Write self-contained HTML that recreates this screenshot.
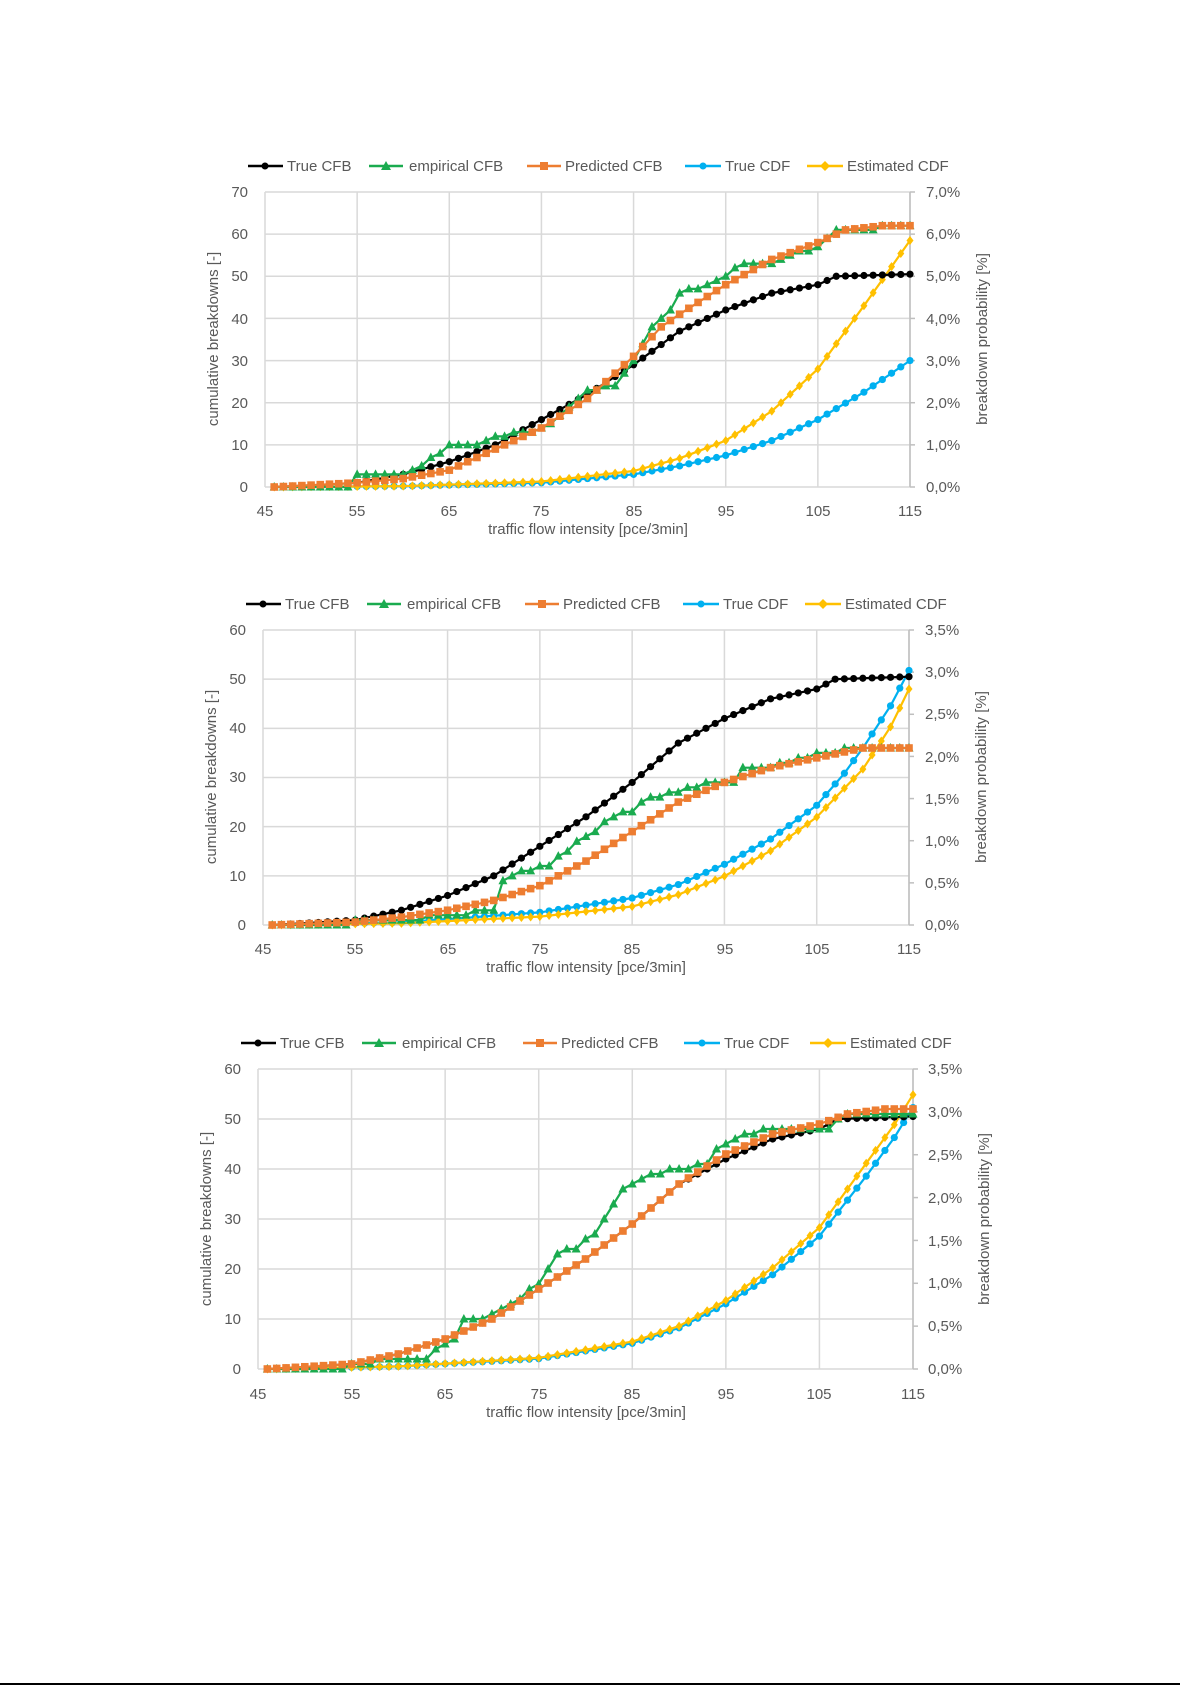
<!DOCTYPE html>
<html><head><meta charset="utf-8"><style>
html,body{margin:0;padding:0;background:#fff;}
body{width:1192px;height:1685px;position:relative;overflow:hidden;font-family:"Liberation Sans",sans-serif;}
svg{position:absolute;overflow:visible;}
text{font-family:"Liberation Sans",sans-serif;fill:#595959;font-size:15px;}
.hr{position:absolute;left:0;top:1683px;width:1180px;height:1.5px;background:#000;}
</style></head><body>

<svg id="c1" style="left:185px;top:132px" width="820" height="420">
<g class="leg">
<line x1="63" y1="34" x2="98" y2="34" stroke="#000" stroke-width="2.5"/><circle cx="80" cy="34" r="3.5" fill="#000"/><text x="102" y="39">True CFB</text>
<line x1="184" y1="34" x2="218" y2="34" stroke="#1aab4f" stroke-width="2.5"/><polygon points="201,29 206,38 196,38" fill="#1aab4f"/><text x="224" y="39">empirical CFB</text>
<line x1="342" y1="34" x2="376" y2="34" stroke="#ed7d31" stroke-width="2.5"/><rect x="355" y="30" width="8" height="8" fill="#ed7d31"/><text x="380" y="39">Predicted CFB</text>
<line x1="500" y1="34" x2="536" y2="34" stroke="#00b0f0" stroke-width="2.5"/><circle cx="518" cy="34" r="3.5" fill="#00b0f0"/><text x="540" y="39">True CDF</text>
<line x1="622" y1="34" x2="658" y2="34" stroke="#ffc000" stroke-width="2.5"/><polygon points="640,29 645,34 640,39 635,34" fill="#ffc000"/><text x="662" y="39">Estimated CDF</text>
</g>
<g text-anchor="end">
<text x="63" y="65">70</text><text x="63" y="107">60</text><text x="63" y="149">50</text><text x="63" y="192">40</text><text x="63" y="234">30</text><text x="63" y="276">20</text><text x="63" y="318">10</text><text x="63" y="360">0</text>
</g>
<g>
<text x="741" y="65">7,0%</text><text x="741" y="107">6,0%</text><text x="741" y="149">5,0%</text><text x="741" y="192">4,0%</text><text x="741" y="234">3,0%</text><text x="741" y="276">2,0%</text><text x="741" y="318">1,0%</text><text x="741" y="360">0,0%</text>
</g>
<g text-anchor="middle">
<text x="80" y="384">45</text><text x="172" y="384">55</text><text x="264" y="384">65</text><text x="356" y="384">75</text><text x="449" y="384">85</text><text x="541" y="384">95</text><text x="633" y="384">105</text><text x="725" y="384">115</text>
<text x="403" y="402">traffic flow intensity [pce/3min]</text>
<text transform="translate(33,207) rotate(-90)">cumulative breakdowns [-]</text>
<text transform="translate(802,207) rotate(-90)">breakdown probability [%]</text>
</g>
</svg>

<svg id="c2" style="left:183px;top:570px" width="820" height="420">
<g class="leg">
<line x1="63" y1="34" x2="98" y2="34" stroke="#000" stroke-width="2.5"/><circle cx="80" cy="34" r="3.5" fill="#000"/><text x="102" y="39">True CFB</text>
<line x1="184" y1="34" x2="218" y2="34" stroke="#1aab4f" stroke-width="2.5"/><polygon points="201,29 206,38 196,38" fill="#1aab4f"/><text x="224" y="39">empirical CFB</text>
<line x1="342" y1="34" x2="376" y2="34" stroke="#ed7d31" stroke-width="2.5"/><rect x="355" y="30" width="8" height="8" fill="#ed7d31"/><text x="380" y="39">Predicted CFB</text>
<line x1="500" y1="34" x2="536" y2="34" stroke="#00b0f0" stroke-width="2.5"/><circle cx="518" cy="34" r="3.5" fill="#00b0f0"/><text x="540" y="39">True CDF</text>
<line x1="622" y1="34" x2="658" y2="34" stroke="#ffc000" stroke-width="2.5"/><polygon points="640,29 645,34 640,39 635,34" fill="#ffc000"/><text x="662" y="39">Estimated CDF</text>
</g>
<g text-anchor="end">
<text x="63" y="65">60</text><text x="63" y="114">50</text><text x="63" y="163">40</text><text x="63" y="212">30</text><text x="63" y="262">20</text><text x="63" y="311">10</text><text x="63" y="360">0</text>
</g>
<g>
<text x="742" y="65">3,5%</text><text x="742" y="107">3,0%</text><text x="742" y="149">2,5%</text><text x="742" y="192">2,0%</text><text x="742" y="234">1,5%</text><text x="742" y="276">1,0%</text><text x="742" y="318">0,5%</text><text x="742" y="360">0,0%</text>
</g>
<g text-anchor="middle">
<text x="80" y="384">45</text><text x="172" y="384">55</text><text x="265" y="384">65</text><text x="357" y="384">75</text><text x="449" y="384">85</text><text x="542" y="384">95</text><text x="634" y="384">105</text><text x="726" y="384">115</text>
<text x="403" y="402">traffic flow intensity [pce/3min]</text>
<text transform="translate(33,207) rotate(-90)">cumulative breakdowns [-]</text>
<text transform="translate(803,207) rotate(-90)">breakdown probability [%]</text>
</g>
</svg>

<svg id="c3" style="left:178px;top:1009px" width="830" height="420">
<g class="leg">
<line x1="63" y1="34" x2="98" y2="34" stroke="#000" stroke-width="2.5"/><circle cx="80" cy="34" r="3.5" fill="#000"/><text x="102" y="39">True CFB</text>
<line x1="184" y1="34" x2="218" y2="34" stroke="#1aab4f" stroke-width="2.5"/><polygon points="201,29 206,38 196,38" fill="#1aab4f"/><text x="224" y="39">empirical CFB</text>
<line x1="345" y1="34" x2="379" y2="34" stroke="#ed7d31" stroke-width="2.5"/><rect x="358" y="30" width="8" height="8" fill="#ed7d31"/><text x="383" y="39">Predicted CFB</text>
<line x1="506" y1="34" x2="542" y2="34" stroke="#00b0f0" stroke-width="2.5"/><circle cx="524" cy="34" r="3.5" fill="#00b0f0"/><text x="546" y="39">True CDF</text>
<line x1="632" y1="34" x2="668" y2="34" stroke="#ffc000" stroke-width="2.5"/><polygon points="650,29 655,34 650,39 645,34" fill="#ffc000"/><text x="672" y="39">Estimated CDF</text>
</g>
<g text-anchor="end">
<text x="63" y="65">60</text><text x="63" y="115">50</text><text x="63" y="165">40</text><text x="63" y="215">30</text><text x="63" y="265">20</text><text x="63" y="315">10</text><text x="63" y="365">0</text>
</g>
<g>
<text x="750" y="65">3,5%</text><text x="750" y="108">3,0%</text><text x="750" y="151">2,5%</text><text x="750" y="194">2,0%</text><text x="750" y="237">1,5%</text><text x="750" y="279">1,0%</text><text x="750" y="322">0,5%</text><text x="750" y="365">0,0%</text>
</g>
<g text-anchor="middle">
<text x="80" y="390">45</text><text x="174" y="390">55</text><text x="267" y="390">65</text><text x="361" y="390">75</text><text x="454" y="390">85</text><text x="548" y="390">95</text><text x="641" y="390">105</text><text x="735" y="390">115</text>
<text x="408" y="408">traffic flow intensity [pce/3min]</text>
<text transform="translate(33,210) rotate(-90)">cumulative breakdowns [-]</text>
<text transform="translate(811,210) rotate(-90)">breakdown probability [%]</text>
</g>
</svg>

<div class="hr"></div>

<script>
var NS="http://www.w3.org/2000/svg";
function interp(anch,x,step){
  for(var i=0;i<anch.length-1;i++){
    var a=anch[i],b=anch[i+1];
    if(x>=a[0]&&x<=b[0]){var t=(x-a[0])/(b[0]-a[0]||1);var v=a[1]+(b[1]-a[1])*t;return step?Math.round(v):v;}
  }
  return anch[anch.length-1][1];
}
function chart(id,L,T,R,B,ymax,pmax,nh,series){
  var s=document.getElementById(id);
  var g=document.createElementNS(NS,"g");s.insertBefore(g,s.firstChild);
  function px(x){return L+(x-45)/70*(R-L);}
  var gg=document.createElementNS(NS,"g");g.appendChild(gg);
  function ln(x1,y1,x2,y2,c){var l=document.createElementNS(NS,"line");l.setAttribute("x1",x1);l.setAttribute("x2",x2);l.setAttribute("y1",y1);l.setAttribute("y2",y2);l.setAttribute("stroke",c);l.setAttribute("stroke-width","1.5");gg.appendChild(l);}
  for(var i=0;i<=nh;i++){var y=T+(B-T)*i/nh;ln(L,y,R,y,"#d9d9d9");}
  for(var v=45;v<=115;v+=10){var x=px(v);ln(x,T,x,B,"#d9d9d9");}
  ln(R,T,R,B,"#bfbfbf");
  for(var i=0;i<=7;i++){var y=T+(B-T)*i/7;ln(R,y,R+5,y,"#bfbfbf");}
  series.forEach(function(sr){
    var pts=[];
    for(var x=46;x<=115;x++){
      var v=interp(sr.a,x,sr.step);
      var y=sr.pct? B-(v/pmax)*(B-T) : B-(v/ymax)*(B-T);
      pts.push([px(x),y]);
    }
    var sg=document.createElementNS(NS,"g");g.appendChild(sg);
    var pl=document.createElementNS(NS,"polyline");
    pl.setAttribute("points",pts.map(function(p){return p[0].toFixed(1)+","+p[1].toFixed(1);}).join(" "));
    pl.setAttribute("fill","none");pl.setAttribute("stroke",sr.c);pl.setAttribute("stroke-width","2.2");sg.appendChild(pl);
    pts.forEach(function(p){
      var m;var x=p[0],y=p[1];
      if(sr.m=="c"){m=document.createElementNS(NS,"circle");m.setAttribute("cx",x);m.setAttribute("cy",y);m.setAttribute("r",3.6);}
      else if(sr.m=="s"){m=document.createElementNS(NS,"rect");m.setAttribute("x",x-3.8);m.setAttribute("y",y-3.8);m.setAttribute("width",7.6);m.setAttribute("height",7.6);}
      else if(sr.m=="t"){m=document.createElementNS(NS,"polygon");m.setAttribute("points",(x)+","+(y-5)+" "+(x+4.5)+","+(y+3.5)+" "+(x-4.5)+","+(y+3.5));}
      else {m=document.createElementNS(NS,"polygon");m.setAttribute("points",(x)+","+(y-4.5)+" "+(x+3.5)+","+y+" "+x+","+(y+4.5)+" "+(x-3.5)+","+y);}
      m.setAttribute("fill",sr.c);sg.appendChild(m);
    });
  });
}
var trueCFB=[[46,0],[50,0.4],[55,1],[60,3],[65,6],[70,10],[75,16],[80,22],[85,29],[90,37],[95,42],[100,46],[105,48],[107,50],[115,50.5]];
chart("c1",80,60,725,355,70,7,7,[
 {c:"#00b0f0",m:"c",pct:1,a:[[46,0],[60,0.02],[75,0.1],[85,0.3],[90,0.5],[95,0.75],[100,1.1],[105,1.6],[110,2.25],[115,3.0]]},
 {c:"#ffc000",m:"d",pct:1,a:[[46,0],[60,0.02],[75,0.13],[85,0.38],[90,0.68],[95,1.1],[100,1.8],[105,2.8],[110,4.3],[115,5.85]]},
 {c:"#000",m:"c",a:trueCFB},
 {c:"#1aab4f",m:"t",step:1,a:[[46,0],[54,0],[55,3],[60,3],[62,5],[64,8],[65,10],[68,10],[70,12],[74,13],[76,15],[78,19],[80,23],[83,24],[85,30],[87,38],[89,42],[90,46],[92,47],[95,50],[97,53],[100,53],[102,55],[105,57],[107,61],[111,61],[112,62],[115,62]]},
 {c:"#ed7d31",m:"s",a:[[46,0],[55,1],[60,2],[65,4],[70,9],[75,14],[80,21],[85,31],[88,38],[90,41],[95,48],[100,54],[105,58],[108,61],[112,62],[115,62]]}
]);
chart("c2",80,60,726,355,60,3.5,6,[
 {c:"#00b0f0",m:"c",pct:1,a:[[46,0],[60,0.03],[75,0.15],[85,0.32],[90,0.48],[95,0.72],[100,1.02],[105,1.42],[108,1.8],[110,2.1],[113,2.6],[115,3.02]]},
 {c:"#ffc000",m:"d",pct:1,a:[[46,0],[60,0.02],[75,0.1],[85,0.22],[90,0.36],[95,0.58],[100,0.88],[105,1.28],[110,1.85],[113,2.35],[115,2.8]]},
 {c:"#000",m:"c",a:trueCFB},
 {c:"#1aab4f",m:"t",step:1,a:[[46,0],[54,0],[55,1],[60,1],[65,2],[70,3],[71,9],[73,11],[76,12],[78,15],[80,18],[83,22],[85,23],[87,26],[90,27],[93,29],[96,29],[97,32],[100,32],[102,33],[106,35],[109,36],[115,36]]},
 {c:"#ed7d31",m:"s",a:[[46,0],[55,0.6],[60,1.6],[65,3],[70,5],[75,8],[80,13],[85,19],[90,25],[95,29],[100,32],[105,34],[110,36],[115,36]]}
]);
chart("c3",80,60,735,360,60,3.5,6,[
 {c:"#00b0f0",m:"c",pct:1,a:[[46,0],[60,0.03],[75,0.12],[85,0.3],[90,0.48],[95,0.76],[100,1.1],[105,1.55],[110,2.25],[113,2.7],[115,3.05]]},
 {c:"#ffc000",m:"d",pct:1,a:[[46,0],[60,0.03],[75,0.13],[85,0.32],[90,0.5],[95,0.8],[100,1.18],[105,1.65],[110,2.4],[113,2.85],[115,3.2]]},
 {c:"#000",m:"c",a:trueCFB},
 {c:"#1aab4f",m:"t",step:1,a:[[46,0],[54,0],[55,1],[60,2],[63,2],[64,4],[66,6],[67,10],[69,10],[72,13],[75,17],[77,23],[79,24],[81,27],[83,33],[84,36],[86,38],[88,39],[90,40],[93,41],[94,44],[96,46],[99,48],[101,48],[106,48],[107,50],[109,51],[115,51]]},
 {c:"#ed7d31",m:"s",a:[[46,0],[55,1],[60,3],[65,6],[70,10],[75,16],[80,22],[85,29],[90,37],[95,43],[100,47],[105,49],[108,51],[112,52],[115,52]]}
]);
</script>
</body></html>
